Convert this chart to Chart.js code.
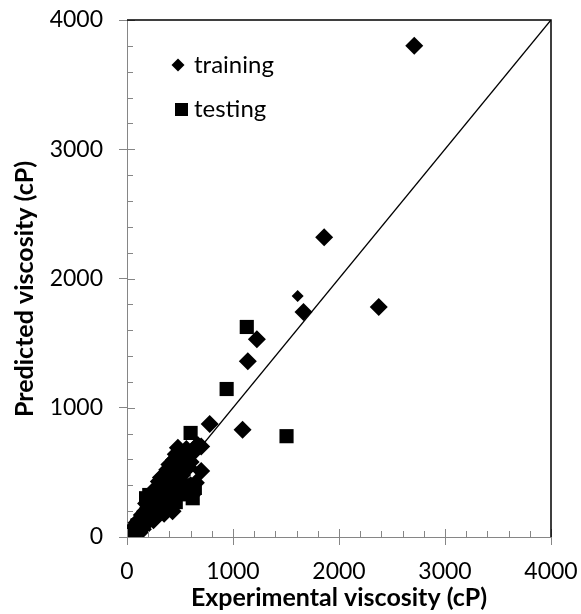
<!DOCTYPE html>
<html>
<head>
<meta charset="utf-8">
<script src="https://cdn.jsdelivr.net/npm/chart.js@4.4.1/dist/chart.umd.min.js"></script>
<style>
  html, body { margin: 0; padding: 0; background: #fff; }
  #wrap { width: 581px; height: 614px; }
</style>
</head>
<body>
<div id="wrap"><canvas id="chart" width="581" height="614"></canvas></div>
<script>
// Experimental vs predicted viscosity (cP)
const axisTicks = [0, 1000, 2000, 3000, 4000];

const training = [
  [2710, 3800], [1860, 2320], [1665, 1740], [2375, 1780], [1225, 1530], [1140, 1360],
  [780, 875], [1090, 830], [700, 510],
  [480, 690], [668, 712], [442, 596], [621, 650], [520, 640], [560, 680], [400, 560],
  [580, 620], [640, 690], [460, 640], [700, 700], [600, 580],
  [380, 520], [350, 480], [300, 430], [280, 380], [250, 360], [220, 320], [200, 290],
  [180, 260], [320, 460], [420, 500],
  [500, 420], [550, 380], [600, 400], [650, 420], [620, 330], [480, 350], [450, 300],
  [400, 280], [430, 200], [380, 240], [350, 180], [300, 200], [250, 130], [200, 120],
  [150, 60], [120, 80], [100, 40],
  [5, 5], [15, 8], [10, 10], [20, 30], [30, 15], [40, 45], [50, 60], [60, 40], [70, 80],
  [80, 70], [90, 110], [100, 90], [110, 130], [130, 120], [140, 170], [160, 150],
  [170, 200], [190, 180], [200, 230], [220, 210], [240, 260], [260, 240], [280, 300],
  [300, 290], [330, 340], [350, 320], [370, 390], [400, 370], [420, 430], [450, 420],
  [480, 500], [520, 480], [550, 560], [580, 540]
];
const trainingSmall = [[1610, 1865]];

const testing = [
  [1130, 1625], [940, 1145], [1505, 780], [600, 805], [460, 270], [210, 325], [600, 400],
  [180, 300], [550, 330], [300, 200], [100, 90], [50, 40], [250, 180], [350, 250],
  [400, 300], [150, 120], [640, 380], [580, 350], [320, 240], [620, 300]
];

const parityLine = [[0, 0], [4000, 4000]];

const toXY = arr => arr.map(([x, y]) => ({ x, y }));
const GREY = '#868686';
const FONT = 'Lato, "DejaVu Sans", sans-serif';

// inner ticks, top+right border, y title, legend
const decor = {
  id: 'decor',
  afterDraw(chart) {
    const { ctx, chartArea: a, scales } = chart;
    const xs = scales.x, ys = scales.y;
    ctx.save();
    ctx.strokeStyle = GREY;
    ctx.lineWidth = 1;
    ctx.beginPath();
    for (let v = 0; v <= 4000; v += 200) {
      const len = v % 1000 === 0 ? 8 : 6;
      const px = Math.round(xs.getPixelForValue(v)) + 0.5;
      ctx.moveTo(px, a.bottom);
      ctx.lineTo(px, a.bottom - len);
      const py = Math.round(ys.getPixelForValue(v)) + 0.5;
      ctx.moveTo(a.left, py);
      ctx.lineTo(a.left + len, py);
    }
    ctx.stroke();

    ctx.strokeStyle = '#000';
    ctx.lineWidth = 1.5;
    ctx.beginPath();
    ctx.moveTo(a.left, a.top);
    ctx.lineTo(a.right, a.top);
    ctx.lineTo(a.right, a.bottom);
    ctx.stroke();

    ctx.fillStyle = '#000';
    ctx.save();
    ctx.translate(25, 289);
    ctx.rotate(-Math.PI / 2);
    ctx.font = 'bold 25px ' + FONT;
    ctx.textAlign = 'center';
    ctx.textBaseline = 'middle';
    ctx.fillText('Predicted viscosity (cP)', 0, 0);
    ctx.restore();

    // legend
    ctx.beginPath();
    ctx.moveTo(178, 58.5); ctx.lineTo(184.5, 65); ctx.lineTo(178, 71.5); ctx.lineTo(171.5, 65);
    ctx.closePath();
    ctx.fill();
    ctx.fillRect(175, 103, 13, 13);
    ctx.font = '24px ' + FONT;
    ctx.textBaseline = 'middle';
    ctx.fillText('training', 194, 65);
    ctx.fillText('testing', 194, 109);
    ctx.restore();
  }
};

new Chart(document.getElementById('chart'), {
  type: 'scatter',
  data: {
    datasets: [
      {
        label: 'testing',
        data: toXY(testing),
        pointStyle: 'rect',
        pointRadius: 10,
        pointHoverRadius: 10,
        backgroundColor: '#000',
        borderWidth: 0,
        order: 1
      },
      {
        label: 'training',
        data: toXY(training),
        pointStyle: 'rectRot',
        pointRadius: 9,
        pointHoverRadius: 9,
        backgroundColor: '#000',
        borderWidth: 0,
        order: 2
      },
      {
        label: 'training',
        data: toXY(trainingSmall),
        pointStyle: 'rectRot',
        pointRadius: 6,
        backgroundColor: '#000',
        borderWidth: 0,
        order: 2
      },
      {
        type: 'line',
        label: 'y = x',
        data: toXY(parityLine),
        borderColor: '#000',
        borderWidth: 1.4,
        pointRadius: 0,
        fill: false,
        order: 3
      }
    ]
  },
  options: {
    responsive: false,
    animation: false,
    events: [],
    layout: { padding: { left: 0, right: 30, top: 20, bottom: 0 } },
    plugins: { legend: { display: false }, tooltip: { enabled: false } },
    scales: {
      x: {
        type: 'linear', min: 0, max: 4000,
        afterFit(s) { s.height = 77; s.paddingLeft = 0; s.paddingRight = 0; },
        afterBuildTicks(s) { s.ticks = axisTicks.map(v => ({ value: v })); },
        border: { color: GREY, width: 1 },
        grid: { drawOnChartArea: false, color: GREY, tickLength: 8 },
        ticks: {
          color: '#000', font: { family: FONT, size: 23 }, padding: 13, maxRotation: 0,
          callback: v => String(v)
        },
        title: {
          display: true, text: 'Experimental viscosity (cP)', color: '#000',
          font: { family: FONT, size: 25, weight: 'bold' }, padding: { top: 0, bottom: 1 }
        }
      },
      y: {
        type: 'linear', min: 0, max: 4000,
        afterFit(s) { s.width = 127; s.paddingTop = 0; s.paddingBottom = 0; },
        afterBuildTicks(s) { s.ticks = axisTicks.map(v => ({ value: v })); },
        border: { color: GREY, width: 1 },
        grid: { drawOnChartArea: false, color: GREY, tickLength: 8 },
        ticks: {
          color: '#000', font: { family: FONT, size: 23 }, padding: 16,
          callback: v => String(v)
        }
      }
    }
  },
  plugins: [decor]
});
</script>
</body>
</html>
